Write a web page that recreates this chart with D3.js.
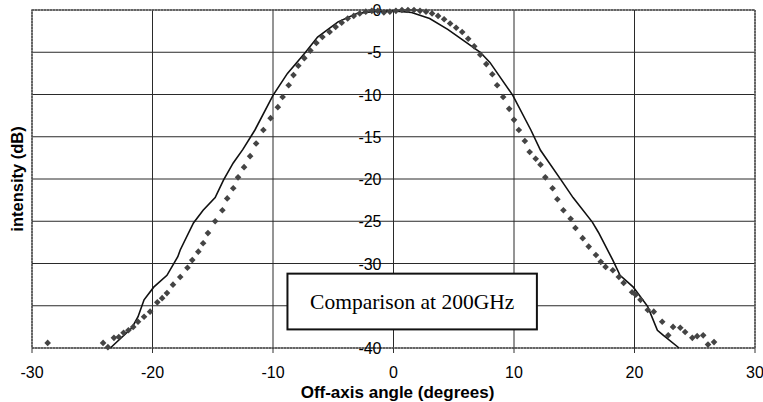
<!DOCTYPE html>
<html>
  <head>
    <meta charset="utf-8">
    <script src="https://d3js.org/d3.v7.min.js"></script>
    <title>Comparison at 200GHz</title>
    <style>
      body { margin: 0; background: #fff; }
      .tick-label { font-family: "Liberation Sans", Arial, sans-serif; font-size: 16px; fill: #000; }
      .axis-title { font-family: "Liberation Sans", Arial, sans-serif; font-weight: bold; fill: #000; }
    </style>
  </head>
  <body>
    <div id="chart"></div>
    <script>
      // measured points (diamonds): angle in degrees
      const measuredX = [-28.7, -24.1, -23.7, -23.2, -22.8, -22.4, -22.0, -21.6, -21.2, -20.7, -20.2, -19.6, -19.2, -18.8,
        -18.3, -17.7, -17.1, -16.7, -16.2, -15.8, -15.4, -14.8, -14.2, -13.8, -13.3, -12.9, -12.4, -11.9, -11.4, -10.8,
        -10.2, -9.6, -9.2, -8.7, -8.3, -7.9, -7.4, -6.9, -6.4, -5.9, -5.3, -4.8, -4.3, -3.8, -3.3, -2.8, -2.3, -1.8, -1.3,
        -0.8, -0.3, 0.2, 0.7, 1.2, 1.7, 2.2, 2.7, 3.2, 3.7, 4.2, 4.7, 5.2, 5.7, 6.2, 6.7, 7.2, 7.7, 8.2, 8.6, 9.1, 9.6,
        10.0, 10.4, 10.9, 11.3, 11.8, 12.2, 12.6, 13.2, 13.6, 14.1, 14.7, 15.1, 15.7, 16.2, 16.8, 17.2, 17.6, 18.2, 18.7,
        19.1, 19.8, 20.1, 20.5, 21.1, 21.6, 22.3, 22.8, 23.2, 23.8, 24.2, 24.8, 25.2, 25.7, 26.1, 26.6];
      // measured intensity (dB)
      const measuredY = [-39.4, -39.4, -39.9, -38.8, -38.7, -38.2, -37.9, -37.5, -36.9, -36.3, -35.7, -34.6, -34.1, -33.5,
        -32.5, -31.6, -30.5, -29.6, -28.6, -27.6, -26.4, -25.0, -23.7, -22.3, -21.1, -19.8, -18.6, -17.3, -15.8, -14.2,
        -12.8, -11.5, -10.3, -8.9, -7.7, -6.6, -5.7, -4.8, -3.9, -3.2, -2.6, -2.0, -1.5, -1.0, -0.7, -0.4, -0.2, -0.1, -0.1,
        -0.3, -0.2, -0.1, 0, 0, 0, -0.1, -0.2, -0.4, -0.7, -1.1, -1.6, -2.1, -2.6, -3.4, -4.3, -5.3, -6.4, -7.6, -8.9, -10.3, -11.7,
        -13.0, -14.2, -15.5, -16.8, -17.6, -18.3, -19.8, -21.1, -22.4, -23.7, -24.7, -25.8, -27.0, -28.0, -29.0, -29.8, -30.4, -30.8, -31.6,
        -32.3, -33.4, -33.7, -34.3, -35.5, -35.7, -36.9, -38.5, -37.5, -37.6, -38.1, -38.8, -38.6, -38.5, -39.6, -39.3];

      // simulated curve (solid line)
      const simX = [-23.5, -21.7, -21.2, -20.7, -19.9, -18.8, -17.9, -17.7, -16.6, -15.8, -14.8, -14.1, -13.3, -12.5,
        -11.5, -10.0, -8.8, -7.3, -6.3, -4.6, -3.0, -1.7, 0, 1.5, 3.0, 4.5, 6.0, 7.2, 8.0, 9.9, 11.4, 12.2, 13.9, 14.9,
        16.5, 17.0, 18.2, 18.8, 19.9, 21.1, 21.9, 22.4, 23.7];
      const simY = [-40, -37.6, -36.3, -34.3, -32.8, -31.4, -29.2, -28.4, -25.2, -23.7, -22.2, -20.1, -18.1, -16.5,
        -14.2, -10.1, -7.5, -5.0, -3.2, -1.4, -0.4, -0.2, -0.1, -0.3, -1.0, -2.3, -3.8, -5.0, -6.2, -10.1, -14.2, -16.6, -20.1, -22.2,
        -25.1, -26.3, -29.6, -31.4, -32.8, -35.1, -37.9, -38.5, -40];

      const xTicks = [-30, -20, -10, 0, 10, 20, 30];
      const yTicks = [0, -5, -10, -15, -20, -25, -30, -35, -40];
      const yTickLabels = ["0", "-5", "-10", "-15", "-20", "-25", "-30", "", "-40"];

      const W = 763, H = 402;
      const plotL = 32, plotR = 755, plotT = 10, plotB = 348;

      const svg = d3.select("#chart").append("svg")
        .attr("width", W).attr("height", H);

      const x = d3.scaleLinear().domain([-30, 30]).range([plotL, plotR]);
      const y = d3.scaleLinear().domain([-40, 0]).range([plotB, plotT]);

      // grid lines
      svg.append("g").selectAll("line").data(yTicks).enter().append("line")
        .attr("x1", plotL).attr("x2", plotR)
        .attr("y1", d => y(d)).attr("y2", d => y(d))
        .attr("stroke", "#2a2a2a").attr("stroke-width", 1);
      svg.append("g").selectAll("line").data(xTicks).enter().append("line")
        .attr("y1", plotT).attr("y2", plotB)
        .attr("x1", d => x(d)).attr("x2", d => x(d))
        .attr("stroke", "#2a2a2a").attr("stroke-width", 1);

      // plot border (grainy scan look)
      svg.append("rect")
        .attr("x", plotL).attr("y", plotT)
        .attr("width", plotR - plotL).attr("height", plotB - plotT)
        .attr("fill", "none").attr("stroke", "#555")
        .attr("stroke-width", 1.5).attr("stroke-dasharray", "2,1");

      // x tick marks below the bottom edge
      svg.append("g").selectAll("line").data(xTicks).enter().append("line")
        .attr("x1", d => x(d)).attr("x2", d => x(d))
        .attr("y1", plotB).attr("y2", plotB + 5)
        .attr("stroke", "#333");

      // x tick labels
      svg.append("g").selectAll("text").data(xTicks).enter().append("text")
        .attr("class", "tick-label")
        .attr("x", d => x(d)).attr("y", plotB + 29.5)
        .attr("text-anchor", "middle")
        .text(d => d);

      // y tick labels sit against the zero axis
      svg.append("g").selectAll("text").data(yTicks).enter().append("text")
        .attr("class", "tick-label")
        .attr("x", x(0) - 12).attr("y", d => y(d) + 6)
        .attr("text-anchor", "end")
        .text((d, i) => yTickLabels[i]);

      // simulated line
      const line = d3.line().x((d, i) => x(simX[i])).y((d, i) => y(simY[i]));
      svg.append("path")
        .datum(simX)
        .attr("d", line)
        .attr("fill", "none")
        .attr("stroke", "#111")
        .attr("stroke-width", 1.6);

      // measured diamonds
      const diamond = d3.symbol().type(d3.symbolSquare).size(22);
      svg.append("g").selectAll("path").data(measuredX).enter().append("path")
        .attr("d", diamond)
        .attr("transform", (d, i) => `translate(${x(d)},${y(measuredY[i])}) rotate(45)`)
        .attr("fill", "#444");

      // label box
      const bx0 = x(-8.8), bx1 = x(11.9), by0 = y(-31.2), by1 = y(-37.8);
      svg.append("rect")
        .attr("x", bx0).attr("y", by0)
        .attr("width", bx1 - bx0).attr("height", by1 - by0)
        .attr("fill", "#fff").attr("stroke", "#111").attr("stroke-width", 2);
      svg.append("text")
        .attr("x", (bx0 + bx1) / 2).attr("y", (by0 + by1) / 2 + 7)
        .attr("text-anchor", "middle")
        .style("font-family", "'Liberation Serif', 'Times New Roman', serif")
        .style("font-size", "21.5px")
        .text("Comparison at 200GHz");

      // axis titles
      svg.append("text")
        .attr("class", "axis-title")
        .attr("x", x(0) + 4).attr("y", 398)
        .attr("text-anchor", "middle")
        .style("font-size", "17px")
        .text("Off-axis angle (degrees)");
      svg.append("text")
        .attr("class", "axis-title")
        .attr("transform", `translate(23,${(plotT + plotB) / 2}) rotate(-90)`)
        .attr("text-anchor", "middle")
        .style("font-size", "16.5px")
        .text("intensity (dB)");
    </script>
  </body>
</html>
